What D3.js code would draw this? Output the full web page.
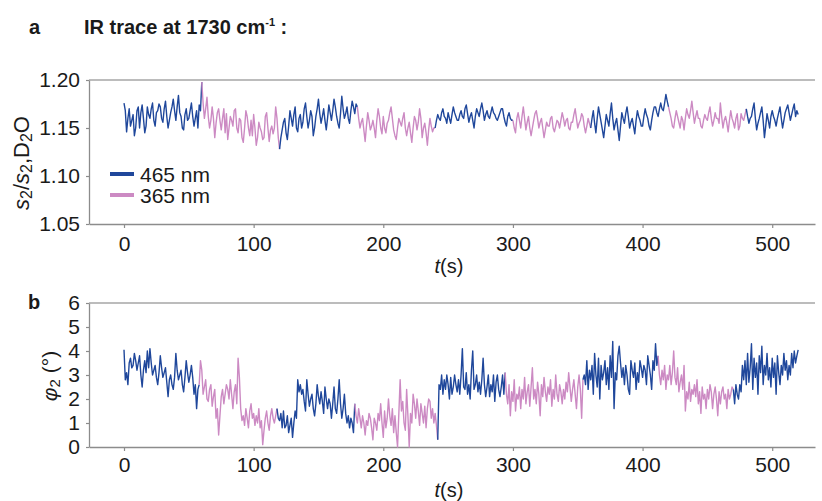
<!DOCTYPE html>
<html>
<head>
<meta charset="utf-8">
<script src="https://cdn.jsdelivr.net/npm/d3@7"></script>
<style>
  body { margin: 0; background: #fff; }
  svg text { font-family: "Liberation Sans", Arial, sans-serif; fill: #1a1a1a; }
</style>
</head>
<body>
<div id="plot"></div>
<script>
// sample interval of both traces (s)
const sampleStep = 1;

// panel a: IR ratio, one value per second from t = 0 to 520 s
const irValues = [
  1.176,1.168,1.146,1.160,1.170,1.152,1.158,1.164,1.142,1.150,1.168,1.172,1.150,1.166,1.174,1.160,1.145,1.152,1.172,1.164,
  1.160,1.170,1.176,1.158,1.152,1.166,1.168,1.175,1.172,1.160,1.156,1.170,1.178,1.162,1.150,1.158,1.166,1.172,1.180,1.168,
  1.158,1.172,1.184,1.166,1.162,1.150,1.148,1.164,1.170,1.158,1.160,1.168,1.176,1.162,1.152,1.160,1.168,1.150,1.174,1.168,
  1.198,1.176,1.160,1.170,1.182,1.162,1.150,1.158,1.172,1.160,1.140,1.155,1.166,1.170,1.158,1.148,1.160,1.170,1.145,1.165,
  1.138,1.150,1.162,1.158,1.152,1.168,1.170,1.150,1.145,1.160,1.158,1.140,1.135,1.150,1.168,1.162,1.150,1.142,1.158,1.142,
  1.164,1.150,1.132,1.140,1.156,1.150,1.146,1.138,1.140,1.162,1.166,1.150,1.136,1.148,1.152,1.144,1.150,1.172,1.160,1.140,
  1.128,1.140,1.148,1.156,1.160,1.145,1.138,1.152,1.168,1.160,1.152,1.164,1.172,1.150,1.146,1.160,1.164,1.150,1.156,1.170,
  1.176,1.162,1.150,1.158,1.168,1.162,1.142,1.150,1.162,1.170,1.180,1.165,1.155,1.162,1.170,1.158,1.148,1.160,1.174,1.166,
  1.158,1.168,1.180,1.172,1.162,1.155,1.150,1.165,1.183,1.170,1.160,1.165,1.172,1.160,1.155,1.168,1.178,1.172,1.165,1.175,
  1.172,1.160,1.150,1.156,1.160,1.148,1.136,1.152,1.166,1.158,1.148,1.152,1.158,1.150,1.140,1.158,1.170,1.162,1.150,1.144,
  1.162,1.150,1.145,1.155,1.158,1.166,1.172,1.160,1.148,1.142,1.138,1.150,1.160,1.156,1.152,1.160,1.166,1.150,1.142,1.150,
  1.156,1.145,1.135,1.150,1.162,1.158,1.148,1.156,1.170,1.160,1.140,1.150,1.155,1.145,1.132,1.148,1.160,1.152,1.146,1.150,
  1.150,1.158,1.164,1.160,1.158,1.166,1.170,1.162,1.160,1.155,1.166,1.160,1.155,1.164,1.172,1.166,1.162,1.158,1.158,1.164,
  1.168,1.162,1.160,1.170,1.174,1.165,1.156,1.162,1.166,1.158,1.150,1.162,1.170,1.166,1.162,1.170,1.176,1.168,1.158,1.164,
  1.168,1.162,1.160,1.166,1.172,1.166,1.164,1.160,1.158,1.162,1.166,1.170,1.170,1.162,1.156,1.152,1.162,1.166,1.160,1.158,
  1.158,1.150,1.145,1.160,1.166,1.158,1.150,1.162,1.172,1.160,1.148,1.156,1.162,1.150,1.142,1.150,1.158,1.165,1.168,1.160,
  1.150,1.156,1.160,1.150,1.140,1.148,1.156,1.152,1.152,1.160,1.162,1.150,1.146,1.152,1.158,1.156,1.150,1.158,1.166,1.160,
  1.152,1.158,1.160,1.150,1.148,1.156,1.156,1.164,1.170,1.160,1.150,1.155,1.158,1.165,1.162,1.152,1.145,1.152,1.160,1.155,
  1.150,1.160,1.168,1.155,1.145,1.160,1.172,1.164,1.156,1.148,1.140,1.152,1.164,1.158,1.152,1.165,1.176,1.160,1.148,1.155,
  1.160,1.148,1.137,1.152,1.166,1.160,1.155,1.165,1.172,1.162,1.150,1.156,1.160,1.152,1.144,1.158,1.168,1.162,1.158,1.152,
  1.152,1.162,1.170,1.164,1.160,1.152,1.148,1.158,1.166,1.172,1.172,1.166,1.162,1.170,1.176,1.170,1.168,1.176,1.185,1.178,
  1.172,1.166,1.160,1.152,1.150,1.160,1.168,1.162,1.156,1.150,1.162,1.158,1.148,1.160,1.170,1.164,1.160,1.168,1.178,1.166,
  1.155,1.162,1.168,1.160,1.160,1.152,1.150,1.158,1.164,1.160,1.158,1.166,1.172,1.160,1.152,1.158,1.166,1.160,1.160,1.155,
  1.176,1.162,1.150,1.158,1.162,1.155,1.146,1.158,1.168,1.160,1.156,1.150,1.160,1.165,1.148,1.152,1.165,1.160,1.158,1.164,
  1.170,1.162,1.155,1.160,1.162,1.170,1.176,1.160,1.148,1.155,1.160,1.166,1.172,1.158,1.140,1.152,1.165,1.158,1.150,1.162,
  1.168,1.162,1.158,1.152,1.160,1.166,1.172,1.160,1.150,1.158,1.166,1.170,1.174,1.166,1.158,1.164,1.170,1.175,1.162,1.168,
  1.164
];

// panel b: phi2 (deg), one value per second from t = 0 to 520 s
const phiValues = [
  4.05,2.8,3.1,2.6,3.5,3.7,3.3,3.4,3.9,3.6,3.2,3.5,3.8,3.0,2.5,3.2,3.6,3.1,4.0,3.3,
  4.1,3.5,3.0,3.2,3.4,2.9,2.6,3.1,3.8,3.3,2.9,3.1,3.3,2.7,2.1,2.8,3.0,2.6,2.4,2.9,
  3.9,3.2,2.8,3.0,3.2,2.6,2.3,2.9,3.6,3.1,2.7,3.0,3.4,2.9,2.2,2.6,1.6,2.4,2.6,3.6,
  3.2,2.2,2.5,2.8,2.0,1.9,2.4,2.6,1.7,2.1,2.4,1.2,1.6,0.5,1.3,2.1,2.4,1.8,2.2,2.6,
  2.4,2.0,2.8,2.2,1.6,2.3,2.6,1.8,3.7,2.9,1.6,1.1,1.3,0.9,1.6,1.2,0.8,1.5,1.8,1.2,
  1.4,0.9,1.3,1.0,1.6,0.8,1.1,0.1,0.7,1.2,1.5,1.0,0.7,1.3,1.6,1.2,1.0,1.3,1.6,1.2,
  1.1,1.4,0.8,1.5,0.8,0.9,1.3,0.6,0.9,1.2,0.4,1.0,1.5,1.2,2.8,2.3,2.6,2.2,2.4,1.9,
  1.5,2.8,2.2,1.7,2.0,2.2,1.6,1.3,1.8,2.6,2.1,1.8,2.3,1.9,1.4,2.5,2.0,1.6,2.0,1.8,
  1.2,1.8,2.5,1.6,1.4,2.0,2.8,1.8,1.2,1.6,2.2,1.4,1.0,1.3,0.8,1.2,1.0,0.6,1.8,1.3,
  1.0,1.6,1.2,0.8,1.3,1.0,0.5,1.1,0.9,1.4,1.2,0.8,0.3,1.2,1.0,0.7,1.4,1.1,1.8,1.0,
  0.4,1.5,0.8,1.2,2.0,1.3,0.9,1.6,0.6,1.3,0.6,0.0,1.4,2.8,1.5,1.9,1.0,0.7,2.4,1.3,
  0.0,1.4,1.0,2.2,1.8,1.2,2.0,1.5,0.9,1.8,1.4,1.0,1.7,0.8,1.6,2.0,1.9,1.2,1.6,1.0,
  1.4,0.9,0.3,2.6,2.4,3.0,2.2,2.8,2.4,3.0,2.6,2.0,2.9,2.2,2.5,3.0,2.6,2.3,2.8,2.2,
  3.0,4.1,2.5,2.4,3.1,2.2,2.6,2.0,3.2,4.0,2.4,2.6,3.0,2.3,2.7,2.2,2.8,3.7,2.6,2.1,
  2.5,3.0,2.1,2.6,2.3,3.0,1.9,2.7,3.0,2.4,2.1,2.5,3.0,2.2,3.1,2.2,1.8,2.6,1.3,2.3,
  1.9,2.8,1.5,2.2,2.0,2.5,1.6,2.4,2.0,2.9,1.8,2.3,2.6,1.7,2.5,3.3,2.0,2.4,1.8,2.7,
  2.2,1.3,2.6,2.1,2.9,2.3,1.9,2.5,2.2,2.8,1.7,2.4,2.0,3.0,2.2,1.9,2.6,2.3,1.8,2.4,
  2.0,2.7,2.3,3.1,2.5,1.9,2.4,2.8,2.2,1.6,2.5,3.0,2.4,1.2,2.8,3.0,2.6,3.6,2.4,3.2,
  2.8,3.4,2.2,3.9,3.0,2.5,3.7,2.0,3.4,2.8,3.1,3.6,2.6,3.3,2.4,3.8,2.9,4.4,1.6,3.1,
  2.8,3.8,4.2,3.5,2.9,3.3,2.6,3.4,3.0,2.4,2.2,3.6,3.2,2.9,3.5,2.4,3.1,2.7,3.6,3.3,
  2.9,3.4,3.2,2.6,3.8,3.4,3.0,2.4,3.6,3.2,4.3,3.4,3.8,3.0,2.6,3.2,2.8,3.4,2.4,3.0,
  2.8,3.4,2.6,3.1,4.0,2.9,2.6,3.3,2.3,2.7,3.0,2.4,3.4,1.5,2.3,2.0,2.7,1.9,2.4,2.2,
  2.6,2.1,2.8,1.8,2.3,1.4,2.5,2.0,2.2,1.6,2.4,2.0,2.6,2.3,1.6,2.2,2.5,2.0,1.3,2.3,
  1.8,2.3,2.5,2.0,2.2,1.6,2.4,2.0,2.2,2.5,2.4,1.8,2.6,2.2,2.0,2.6,2.3,3.4,2.8,3.6,
  2.6,3.9,2.7,3.3,4.3,2.4,3.7,2.9,3.5,2.2,3.8,3.1,4.2,2.6,3.4,3.0,3.9,2.8,3.3,2.5,
  3.7,2.9,3.5,2.2,3.8,3.1,2.6,3.4,3.0,3.9,3.2,3.6,2.8,3.4,3.0,3.9,3.3,4.0,3.5,3.8,
  4.05
];

// start times (s) of each illumination period, alternating 465 / 365 nm
const irSegmentStarts  = [0, 60, 120, 180, 240, 300, 360, 420, 480];
const phiSegmentStarts = [0, 58, 118, 178, 242, 294, 354, 412, 470];

const legendLabels = ["465 nm", "365 nm"];
const colors = ["#1f479b", "#cc8ac3"];

const irTicks  = [1.05, 1.10, 1.15, 1.20];
const phiTicks = [0, 1, 2, 3, 4, 5, 6];
const timeTicks = [0, 100, 200, 300, 400, 500];

const W = 822, H = 501;
const FS = 21; // tick / label font size

const svg = d3.select("#plot").append("svg")
    .attr("width", W).attr("height", H);

const x = d3.scaleLinear().domain([-27, 533]).range([89, 815]);

function toPoints(values) {
  return values.map((v, i) => ({t: i * sampleStep, v: v}));
}

// split a trace into coloured periods; each period also takes the first point
// of the next one so the line stays continuous
function segments(points, starts) {
  return starts.map((s, k) => {
    const end = k < starts.length - 1 ? starts[k + 1] : Infinity;
    return {
      color: colors[k % 2],
      pts: points.filter(p => p.t >= s && p.t <= end)
    };
  });
}

function drawPanel(opts) {
  const y = d3.scaleLinear().domain(opts.yDomain).range([opts.bottom, opts.top]);
  const g = svg.append("g");

  // top frame line
  g.append("line")
      .attr("x1", x.range()[0]).attr("x2", x.range()[1])
      .attr("y1", opts.top).attr("y2", opts.top)
      .attr("stroke", "#a6a6a6").attr("stroke-width", 1.6);

  // x axis
  const xa = g.append("g")
      .attr("transform", `translate(0,${opts.bottom})`)
      .call(d3.axisBottom(x).tickValues(timeTicks).tickSize(4).tickPadding(opts.xPad).tickSizeOuter(0));
  // y axis
  const ya = g.append("g")
      .attr("transform", `translate(${x.range()[0]},0)`)
      .call(d3.axisLeft(y).tickValues(opts.yTicks).tickFormat(opts.yFormat).tickSize(3).tickPadding(6).tickSizeOuter(0));

  [xa, ya].forEach(a => {
    a.select(".domain").attr("stroke", "#8c8c8c").attr("stroke-width", 1.3);
    a.selectAll(".tick line").attr("stroke", "#8c8c8c").attr("stroke-width", 1.2);
    a.selectAll(".tick text").attr("font-size", FS).attr("fill", "#1a1a1a")
      .style("font-family", "'Liberation Sans', Arial, sans-serif");
  });

  const line = d3.line().x(p => x(p.t)).y(p => y(p.v));
  g.selectAll("path.trace")
    .data(segments(toPoints(opts.values), opts.starts))
    .join("path")
      .attr("class", "trace")
      .attr("d", d => line(d.pts))
      .attr("fill", "none")
      .attr("stroke", d => d.color)
      .attr("stroke-width", 1.4)
      .attr("stroke-linejoin", "round");

  // x label  t(s)
  const xl = g.append("text")
      .attr("x", 449).attr("y", opts.xLabelY)
      .attr("text-anchor", "middle").attr("font-size", 20);
  xl.append("tspan").attr("font-style", "italic").text("t");
  xl.append("tspan").text("(s)");

  return {g, y};
}

// ---------- panel a ----------
drawPanel({
  top: 80, bottom: 224, yDomain: [1.05, 1.20], yTicks: irTicks,
  yFormat: d3.format(".2f"), values: irValues, starts: irSegmentStarts,
  xPad: 8, xLabelY: 273
});

// y label  s2/s2,D2O
const yla = svg.append("text")
    .attr("transform", "translate(29,163) rotate(-90)")
    .attr("text-anchor", "middle").attr("font-size", 22);
yla.append("tspan").attr("font-style", "italic").text("s");
yla.append("tspan").attr("font-size", 16).attr("dy", 3).text("2");
yla.append("tspan").attr("dy", -3).text("/");
yla.append("tspan").attr("font-style", "italic").text("s");
yla.append("tspan").attr("font-size", 16).attr("dy", 3).text("2");
yla.append("tspan").attr("dy", -3).text(",D");
yla.append("tspan").attr("font-size", 16).attr("dy", 3).text("2");
yla.append("tspan").attr("dy", -3).text("O");

// legend
const legend = svg.append("g").attr("transform", "translate(110,182)");
legendLabels.forEach((lab, i) => {
  legend.append("line")
      .attr("x1", 0).attr("x2", 24)
      .attr("y1", i * 21 - 8).attr("y2", i * 21 - 8)
      .attr("stroke", colors[i]).attr("stroke-width", 4);
  legend.append("text")
      .attr("x", 30).attr("y", i * 21)
      .attr("font-size", FS).text(lab);
});

// title
svg.append("text").attr("x", 29).attr("y", 34)
    .attr("font-size", 20).attr("font-weight", "bold").text("a");
const title = svg.append("text").attr("x", 84).attr("y", 34)
    .attr("font-size", 20).attr("font-weight", "bold");
title.append("tspan").text("IR trace at 1730 cm");
title.append("tspan").attr("font-size", 11).attr("dy", -8).text("-1");
title.append("tspan").attr("dy", 8).text(" :");

// ---------- panel b ----------
drawPanel({
  top: 303, bottom: 447, yDomain: [0, 6], yTicks: phiTicks,
  yFormat: d3.format("d"), values: phiValues, starts: phiSegmentStarts,
  xPad: 6, xLabelY: 497
});

const ylb = svg.append("text")
    .attr("transform", "translate(57,376) rotate(-90)")
    .attr("text-anchor", "middle").attr("font-size", 21);
ylb.append("tspan").attr("font-style", "italic").text("φ");
ylb.append("tspan").attr("font-size", 15).attr("dy", 3).text("2");
ylb.append("tspan").attr("dy", -3).text(" (°)");

svg.append("text").attr("x", 28).attr("y", 309)
    .attr("font-size", 20).attr("font-weight", "bold").text("b");
</script>
</body>
</html>
